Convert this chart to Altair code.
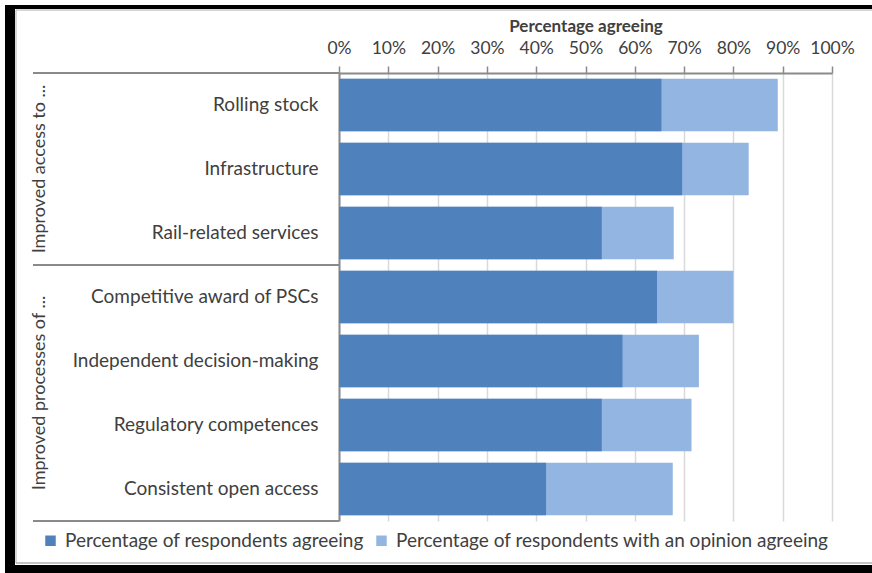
import altair as alt
import pandas as pd

categories = [
    "Rolling stock",
    "Infrastructure",
    "Rail-related services",
    "Competitive award of PSCs",
    "Independent decision-making",
    "Regulatory competences",
    "Consistent open access",
]
agreeing = [65.4, 69.6, 53.3, 64.5, 57.5, 53.3, 42.0]
opinion_agreeing = [89.0, 83.1, 67.9, 80.0, 73.0, 71.5, 67.7]
series_names = [
    "Percentage of respondents agreeing",
    "Percentage of respondents with an opinion agreeing",
]
colors = ["#4F81BD", "#93B5E1"]
tick_values = [0, 10, 20, 30, 40, 50, 60, 70, 80, 90, 100]
group_labels = ["Improved access to ...", "Improved processes of ..."]

FONT = "Lato"
TXT = "#404040"
GREY = "#8a8a8a"
H = 448
STEP = H / len(categories)

df_dark = pd.DataFrame({"category": categories, "value": agreeing, "series": series_names[0]})
df_light = pd.DataFrame({"category": categories, "value": opinion_agreeing, "series": series_names[1]})

y_enc = alt.Y(
    "category:N",
    sort=categories,
    scale=alt.Scale(domain=categories, paddingInner=0.18, paddingOuter=0.09),
    axis=alt.Axis(
        title=None, orient="left", ticks=False, domain=True, domainColor=GREY,
        domainWidth=2, labelFontSize=19, labelFont=FONT, labelColor=TXT,
        labelPadding=21, labelLimit=400, grid=False,
    ),
)
x_enc = alt.X(
    "value:Q",
    scale=alt.Scale(domain=[0, 100], nice=False),
    axis=alt.Axis(
        orient="top", values=tick_values, labelExpr="datum.value + '%'",
        title="Percentage agreeing", titleFont=FONT, titleFontSize=17,
        titleFontWeight="bold", titleColor=TXT, titlePadding=4,
        labelFont=FONT, labelFontSize=17.5, labelColor=TXT, labelPadding=9,
        labelOverlap=False, labelBound=False, labelFlush=False,
        grid=True, gridColor="#d9d9d9", gridWidth=1.5,
        domainColor=GREY, domainWidth=2, tickColor=GREY, tickSize=7, tickWidth=1.5,
    ),
)
color_enc = alt.Color(
    "series:N",
    scale=alt.Scale(domain=series_names, range=colors),
    legend=alt.Legend(
        title=None, orient="none", legendX=-298, legendY=458, direction="horizontal",
        symbolType="square", symbolSize=110, symbolStrokeWidth=0,
        labelFont=FONT, labelFontSize=19, labelColor=TXT, labelOffset=5,
        columnPadding=8, labelLimit=600,
    ),
)

light = alt.Chart(df_light).mark_bar(opacity=1).encode(x=x_enc, y=y_enc, color=color_enc)
dark = alt.Chart(df_dark).mark_bar(opacity=1).encode(x="value:Q", y="category:N", color="series:N")

one = pd.DataFrame({"k": [0]})

# Separator lines on the left of the plot (group boundaries)
sep_top = alt.Chart(one).mark_rule(color=GREY, strokeWidth=2).encode(
    x=alt.value(-306), x2=alt.value(0), y=alt.value(0))
sep_bottom = alt.Chart(one).mark_rule(color=GREY, strokeWidth=2).encode(
    x=alt.value(-306), x2=alt.value(0), y=alt.value(H))
sep_mid = alt.Chart(one).mark_rule(color=GREY, strokeWidth=2).encode(
    x=alt.value(-306), x2=alt.value(0), y=alt.value(3 * STEP))

grp1 = alt.Chart(one).mark_text(
    angle=270, font=FONT, fontSize=18, color=TXT, align="center", baseline="middle",
    text=group_labels[0],
).encode(x=alt.value(-299), y=alt.value(1.5 * STEP))
grp2 = alt.Chart(one).mark_text(
    angle=270, font=FONT, fontSize=18, color=TXT, align="center", baseline="middle",
    text=group_labels[1],
).encode(x=alt.value(-299), y=alt.value(5 * STEP))

# Outer frame
frame_left = alt.Chart(one).mark_rule(color="black", strokeWidth=10).encode(
    x=alt.value(-329), y=alt.value(-68), y2=alt.value(500))
frame_top = alt.Chart(one).mark_rule(color="black", strokeWidth=4).encode(
    x=alt.value(-334), x2=alt.value(540), y=alt.value(-66))
frame_bottom = alt.Chart(one).mark_rule(color="black", strokeWidth=8).encode(
    x=alt.value(-334), x2=alt.value(540), y=alt.value(496))
inner_top = alt.Chart(one).mark_rule(color="#b0b0b0", strokeWidth=1).encode(
    x=alt.value(-323), x2=alt.value(540), y=alt.value(-63))
inner_bottom = alt.Chart(one).mark_rule(color="#b0b0b0", strokeWidth=1.5).encode(
    x=alt.value(-323), x2=alt.value(540), y=alt.value(490))
inner_left = alt.Chart(one).mark_rule(color="#b0b0b0", strokeWidth=1).encode(
    x=alt.value(-323), y=alt.value(-63), y2=alt.value(490))

chart = alt.layer(
    light, dark, sep_top, sep_bottom, sep_mid, grp1, grp2,
    frame_left, frame_top, frame_bottom, inner_top, inner_bottom, inner_left,
).properties(
    width=493, height=H,
    padding={"left": 339, "top": 73, "right": 40, "bottom": 52},
    autosize=alt.AutoSizeParams(type="none"),
    background="white",
).configure_view(stroke=None)

chart.save("out.html", embed_options={"renderer": "svg", "actions": False})
